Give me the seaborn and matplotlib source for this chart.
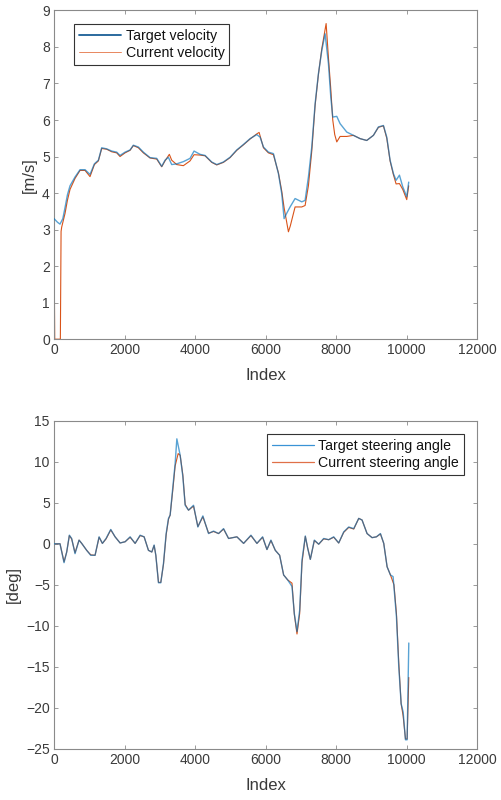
import numpy as np
import pandas as pd
import matplotlib
matplotlib.use("Agg")
import matplotlib.pyplot as plt
import seaborn as sns

# ---------------- data ----------------
vel_target_idx = [0, 100, 170, 250, 312, 380, 454, 596, 738, 880, 1021, 1145, 1258, 1352, 1494,
                  1636, 1778, 1872, 2014, 2156, 2250, 2392, 2534, 2723, 2912, 3054, 3148, 3243,
                  3337, 3479, 3668, 3857, 3971, 4141, 4283, 4472, 4614, 4803, 4992, 5182, 5371,
                  5560, 5750, 5844, 5939, 6080, 6222, 6364, 6458, 6524, 6600, 6694, 6836, 7025,
                  7120, 7214, 7309, 7404, 7498, 7593, 7687, 7782, 7848, 7904, 8018, 8112, 8301,
                  8490, 8679, 8868, 9057, 9199, 9341, 9436, 9530, 9625, 9700, 9795, 9889, 10002,
                  10058]
vel_target = [3.30, 3.20, 3.15, 3.30, 3.60, 3.95, 4.20, 4.44, 4.64, 4.64, 4.51, 4.80, 4.90, 5.24,
              5.21, 5.15, 5.12, 5.03, 5.12, 5.18, 5.31, 5.26, 5.12, 4.97, 4.95, 4.73, 4.90, 4.98,
              4.78, 4.80, 4.86, 4.95, 5.15, 5.06, 5.03, 4.85, 4.78, 4.85, 4.98, 5.18, 5.33,
              5.49, 5.60, 5.53, 5.26, 5.12, 5.08, 4.53, 3.98, 3.30, 3.45, 3.62, 3.85, 3.76,
              3.80, 4.44, 5.26, 6.45, 7.27, 7.90, 8.36, 7.54, 6.63, 6.08, 6.10, 5.90, 5.67,
              5.58, 5.49, 5.44, 5.58, 5.81, 5.85, 5.53, 4.90, 4.53, 4.35, 4.49, 4.17, 3.90,
              4.30]

vel_current_idx = [0, 20, 180, 200, 218, 312, 380, 454, 596, 738, 880, 1021, 1145, 1258, 1352,
                   1494, 1636, 1778, 1872, 2014, 2156, 2250, 2392, 2534, 2723, 2912, 3054, 3148,
                   3270, 3337, 3479, 3668, 3857, 3971, 4141, 4283, 4472, 4614, 4803, 4992, 5182,
                   5371, 5560, 5750, 5816, 5939, 6080, 6222, 6364, 6458, 6524, 6647, 6700, 6836,
                   7025, 7120, 7214, 7309, 7404, 7498, 7593, 7716, 7782, 7848, 7904, 7960, 8018,
                   8112, 8301, 8490, 8679, 8868, 9057, 9199, 9341, 9436, 9530, 9625, 9700, 9795,
                   9889, 10002, 10058]
vel_current = [2.75, 0.00, 0.00, 2.95, 3.07, 3.44, 3.80, 4.10, 4.40, 4.62, 4.62, 4.45, 4.78, 4.88,
               5.22, 5.20, 5.13, 5.10, 5.00, 5.10, 5.17, 5.30, 5.24, 5.10, 4.96, 4.93, 4.72,
               4.88, 5.06, 4.90, 4.78, 4.75, 4.88, 5.05, 5.04, 5.02, 4.84, 4.77, 4.84, 4.97,
               5.17, 5.32, 5.48, 5.62, 5.66, 5.24, 5.10, 5.05, 4.55, 4.05, 3.60, 2.94, 3.10,
               3.62, 3.62, 3.66, 4.20, 5.15, 6.40, 7.25, 7.95, 8.64, 7.70, 6.85, 6.00, 5.60,
               5.40, 5.55, 5.55, 5.58, 5.49, 5.44, 5.58, 5.80, 5.84, 5.50, 4.88, 4.50, 4.25,
               4.26, 4.10, 3.82, 4.20]

steer_target_idx = [0, 170, 284, 360, 435, 500, 596, 710, 785, 927, 1041, 1164, 1278, 1372,
                    1476, 1609, 1732, 1874, 2016, 2158, 2300, 2442, 2555, 2678, 2773, 2839,
                    2887, 2962, 3028, 3104, 3180, 3246, 3293, 3369, 3435, 3483, 3577, 3653,
                    3719, 3814, 3956, 4079, 4221, 4382, 4524, 4666, 4808, 4950, 5186, 5376,
                    5584, 5754, 5915, 6038, 6151, 6275, 6398, 6511, 6625, 6748, 6814, 6890,
                    6966, 7032, 7126, 7193, 7268, 7382, 7505, 7647, 7789, 7931, 8073, 8215,
                    8357, 8499, 8641, 8735, 8877, 9019, 9142, 9256, 9350, 9445, 9540, 9615,
                    9710, 9776, 9843, 9900, 9966, 10013, 10060]
steer_target = [0.0, 0.0, -2.3, -1.0, 1.05, 0.65, -1.2, 0.45, 0.05, -0.8, -1.4, -1.4, 0.85, 0.05,
                0.65, 1.75, 0.85, 0.1, 0.25, 0.85, 0.05, 1.05, 0.85, -0.8, -1.0, -0.15,
                -1.4, -4.75, -4.75, -2.4, 1.25, 3.1, 3.5, 6.9, 9.8, 12.8, 10.8, 8.2,
                4.7, 4.1, 4.7, 2.05, 3.4, 1.25, 1.55, 1.25, 1.85, 0.65, 0.85, 0.05,
                1.05, 0.05, 0.85, -0.7, 0.45, -0.8, -1.4, -3.8, -4.4, -5.2, -8.5, -10.7,
                -8.1, -2.0, 0.95, -0.55, -1.9, 0.45, -0.05, 0.65, 0.5, 0.85, 0.1, 1.45,
                2.05, 1.85, 3.1, 2.9, 1.25, 0.75, 0.85, 1.25, 0.05, -2.8, -3.8, -4.0,
                -8.9, -15.0, -19.5, -20.5, -23.9, -23.9, -12.1]

steer_current_idx = [0, 170, 284, 360, 435, 500, 596, 710, 785, 927, 1041, 1164, 1278, 1372,
                     1476, 1609, 1732, 1874, 2016, 2158, 2300, 2442, 2555, 2678, 2773, 2839,
                     2887, 2962, 3028, 3104, 3180, 3246, 3293, 3369, 3435, 3520, 3577, 3653,
                     3719, 3814, 3956, 4079, 4221, 4382, 4524, 4666, 4808, 4950, 5186, 5376,
                     5584, 5754, 5915, 6038, 6151, 6275, 6398, 6511, 6625, 6748, 6814, 6890,
                     6966, 7032, 7126, 7193, 7268, 7382, 7505, 7647, 7789, 7931, 8073, 8215,
                     8357, 8499, 8641, 8735, 8877, 9019, 9142, 9256, 9350, 9445, 9540, 9640,
                     9710, 9776, 9843, 9900, 9966, 10013, 10060]
steer_current = [0.0, 0.0, -2.2, -1.0, 1.0, 0.6, -1.1, 0.45, 0.05, -0.8, -1.35, -1.4, 0.8, 0.05,
                 0.6, 1.7, 0.85, 0.1, 0.25, 0.8, 0.05, 1.0, 0.85, -0.8, -1.0, -0.2,
                 -1.4, -4.7, -4.7, -2.5, 1.1, 3.0, 3.5, 6.6, 9.5, 11.0, 10.8, 8.4,
                 4.8, 4.1, 4.6, 2.1, 3.3, 1.3, 1.5, 1.25, 1.8, 0.65, 0.85, 0.05,
                 1.0, 0.05, 0.8, -0.7, 0.4, -0.8, -1.4, -3.8, -4.4, -4.8, -8.6, -11.0,
                 -8.5, -2.3, 0.9, -0.5, -1.9, 0.4, -0.05, 0.6, 0.5, 0.8, 0.1, 1.4,
                 2.0, 1.8, 3.1, 2.9, 1.25, 0.75, 0.85, 1.2, 0.05, -2.8, -3.8, -5.0,
                 -8.5, -14.5, -19.5, -21.0, -23.8, -23.8, -16.3]

# ---------------- style ----------------
sns.set_theme(style="white")
plt.rcParams['font.family'] = ['Liberation Sans', 'DejaVu Sans']
BLUE = "#0072BD"
ORANGE = "#D95319"
AXC = "#8a8a8a"
TXT = "#3a3a3a"

fig = plt.figure(figsize=(5.02, 8.0), dpi=100)
ax1 = fig.add_axes([0.1076, 0.576, 0.843, 0.411])
ax2 = fig.add_axes([0.1076, 0.064, 0.843, 0.410])

df_v = pd.concat([
    pd.DataFrame({"Index": vel_target_idx, "val": vel_target, "series": "Target velocity"}),
    pd.DataFrame({"Index": vel_current_idx, "val": vel_current, "series": "Current velocity"}),
])
df_s = pd.concat([
    pd.DataFrame({"Index": steer_target_idx, "val": steer_target, "series": "Target steering angle"}),
    pd.DataFrame({"Index": steer_current_idx, "val": steer_current, "series": "Current steering angle"}),
])

sns.lineplot(data=df_v, x="Index", y="val", hue="series", ax=ax1, estimator=None, sort=False,
             palette={"Target velocity": BLUE, "Current velocity": ORANGE}, linewidth=0.9)
sns.lineplot(data=df_s, x="Index", y="val", hue="series", ax=ax2, estimator=None, sort=False,
             palette={"Target steering angle": BLUE, "Current steering angle": ORANGE}, linewidth=0.9)

# draw target on top, semi-transparent, to mimic the darker overlap of the original
for ax in (ax1, ax2):
    ln_t, ln_c = ax.lines[0], ax.lines[1]
    ln_c.set_zorder(2)
    ln_c.set_linewidth(0.8)
    ln_t.set_zorder(3)
    ln_t.set_alpha(0.65)
    ln_t.set_linewidth(1.0)


def style(ax, ylim, yticks, ylabel):
    ax.set_xlim(0, 12000)
    ax.set_ylim(*ylim)
    ax.set_xticks(range(0, 12001, 2000))
    ax.set_yticks(yticks)
    ax.set_xlabel("Index", fontsize=12, color=TXT, labelpad=8)
    ax.set_ylabel(ylabel, fontsize=12, color=TXT, labelpad=4)
    for sp in ax.spines.values():
        sp.set_visible(True)
        sp.set_color(AXC)
        sp.set_linewidth(0.8)
    ax.tick_params(axis="both", which="both", direction="in", length=3, width=0.6,
                   colors=AXC, labelcolor=TXT, labelsize=10, top=True, right=True,
                   bottom=True, left=True, pad=3)
    ax.grid(False)
    ax.set_facecolor("white")

style(ax1, (0, 9), range(0, 10), "[m/s]")
style(ax2, (-25, 15), range(-25, 16, 5), "[deg]")

common = dict(fontsize=10.2, frameon=True, fancybox=False, handlelength=3.0, borderpad=0.35,
              labelspacing=0.25, handletextpad=0.3, borderaxespad=0)
leg1 = ax1.legend(loc="upper left", bbox_to_anchor=(0.047, 0.96), **common)
leg2 = ax2.legend(loc="upper right", bbox_to_anchor=(0.969, 0.96), **common)
for leg in (leg1, leg2):
    leg.get_frame().set_edgecolor("#333333")
    leg.get_frame().set_linewidth(0.8)
    leg.get_frame().set_alpha(1)
    for t in leg.get_texts():
        t.set_color("#111111")
    for h in leg.get_lines():
        h.set_alpha(1)
leg1.get_lines()[0].set_color("#1a5f96")
leg1.get_lines()[0].set_linewidth(1.3)
leg1.get_lines()[1].set_color("#e8875f")
leg1.get_lines()[1].set_linewidth(0.7)
leg2.get_lines()[0].set_color("#3a93d6")
leg2.get_lines()[0].set_linewidth(0.9)
leg2.get_lines()[1].set_color("#e07048")
leg2.get_lines()[1].set_linewidth(0.9)

fig.savefig("out.png", dpi=100, facecolor="white")
